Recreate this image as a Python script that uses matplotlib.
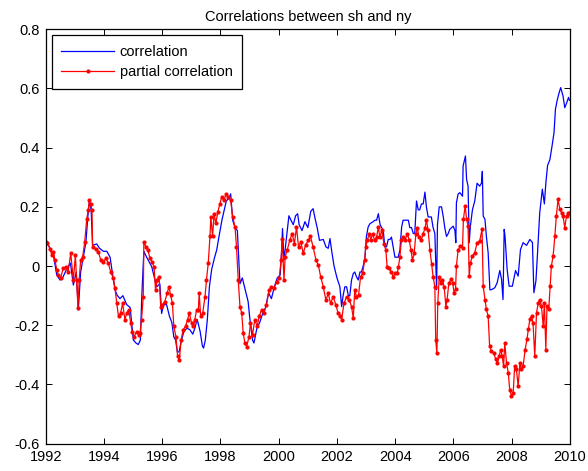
import matplotlib
matplotlib.use("Agg")
import matplotlib.pyplot as plt

plt.rcParams['font.family'] = ['Liberation Sans', 'DejaVu Sans']

# ---- correlation (blue) ----
corr_year = [1992.00, 1992.06, 1992.15, 1992.26, 1992.38, 1992.49, 1992.58, 1992.72, 1992.85, 1992.95,
             1993.05, 1993.12, 1993.20, 1993.29, 1993.38, 1993.45, 1993.50, 1993.56, 1993.61, 1993.75,
             1993.85, 1993.98, 1994.10, 1994.21, 1994.30, 1994.38, 1994.45, 1994.55, 1994.65, 1994.78,
             1994.90, 1995.01, 1995.10, 1995.18, 1995.25, 1995.30, 1995.37, 1995.46, 1995.64, 1995.75,
             1995.81, 1995.92, 1995.98, 1996.05, 1996.15, 1996.25, 1996.33, 1996.40, 1996.46, 1996.52,
             1996.58, 1996.66, 1996.75, 1996.85, 1996.95, 1997.05, 1997.12, 1997.20, 1997.30, 1997.38,
             1997.42, 1997.48, 1997.55, 1997.62, 1997.70, 1997.80, 1997.87, 1997.95, 1998.05, 1998.10,
             1998.20, 1998.30, 1998.35, 1998.42, 1998.50, 1998.58, 1998.67, 1998.75, 1998.90, 1998.95,
             1999.00, 1999.10, 1999.15, 1999.25, 1999.35, 1999.45, 1999.55, 1999.65, 1999.75, 1999.85,
             1999.95, 2000.05, 2000.10, 2000.13, 2000.18, 2000.28, 2000.35, 2000.42, 2000.50, 2000.58,
             2000.65, 2000.70, 2000.80, 2000.90, 2001.00, 2001.10, 2001.18, 2001.25, 2001.32, 2001.40,
             2001.53, 2001.62, 2001.70, 2001.76, 2001.82, 2001.90, 2002.00, 2002.10, 2002.16, 2002.21,
             2002.27, 2002.33, 2002.39, 2002.44, 2002.50, 2002.56, 2002.61, 2002.67, 2002.73, 2002.79,
             2002.84, 2002.90, 2002.96, 2003.01, 2003.07, 2003.13, 2003.24, 2003.30, 2003.36, 2003.42,
             2003.48, 2003.59, 2003.64, 2003.70, 2003.76, 2003.82, 2003.87, 2003.93, 2003.99, 2004.04,
             2004.10, 2004.16, 2004.22, 2004.27, 2004.33, 2004.39, 2004.45, 2004.50, 2004.56, 2004.62,
             2004.67, 2004.73, 2004.79, 2004.84, 2004.90, 2004.96, 2005.02, 2005.07, 2005.13, 2005.19,
             2005.24, 2005.30, 2005.36, 2005.42, 2005.45, 2005.51, 2005.59, 2005.65, 2005.70, 2005.76,
             2005.82, 2005.87, 2005.99, 2006.05, 2006.08, 2006.10, 2006.16, 2006.22, 2006.31, 2006.33,
             2006.41, 2006.45, 2006.50, 2006.54, 2006.58, 2006.65, 2006.73, 2006.81, 2006.90, 2006.96,
             2006.99, 2007.02, 2007.08, 2007.13, 2007.19, 2007.25, 2007.30, 2007.42, 2007.50, 2007.59,
             2007.65, 2007.70, 2007.74, 2007.77, 2007.84, 2007.91, 2008.02, 2008.13, 2008.22, 2008.30,
             2008.39, 2008.51, 2008.62, 2008.71, 2008.76, 2008.83, 2008.88, 2008.96, 2009.05, 2009.12,
             2009.17, 2009.23, 2009.31, 2009.39, 2009.45, 2009.50, 2009.56, 2009.61, 2009.68, 2009.76,
             2009.82, 2009.88, 2009.95, 2009.98]
corr_val = [0.070, 0.075, 0.060, 0.040, -0.030, -0.047, -0.040, -0.010, 0.010, -0.064,
            -0.020, -0.148, -0.020, 0.030, 0.080, 0.170, 0.220, 0.190, 0.070, 0.075,
            0.060, 0.050, 0.050, 0.030, -0.030, -0.080, -0.098, -0.110, -0.100, -0.130,
            -0.140, -0.250, -0.260, -0.265, -0.250, -0.100, 0.050, 0.031, -0.002, -0.047,
            -0.070, -0.060, -0.160, -0.130, -0.130, -0.170, -0.190, -0.240, -0.250, -0.290,
            -0.290, -0.250, -0.220, -0.210, -0.215, -0.230, -0.210, -0.180, -0.220, -0.270,
            -0.277, -0.250, -0.180, -0.070, -0.010, 0.030, 0.054, 0.100, 0.155, 0.177,
            0.220, 0.230, 0.244, 0.155, 0.130, 0.120, -0.060, -0.040, -0.100, -0.120,
            -0.170, -0.250, -0.260, -0.210, -0.190, -0.160, -0.140, -0.090, -0.110, -0.070,
            -0.040, -0.030, 0.050, 0.127, 0.020, 0.110, 0.170, 0.155, 0.140, 0.170,
            0.177, 0.140, 0.120, 0.150, 0.130, 0.185, 0.194, 0.160, 0.130, 0.087,
            0.090, 0.065, 0.060, 0.093, 0.050, 0.000, -0.040, -0.070, -0.137, -0.100,
            -0.070, -0.070, -0.100, -0.100, -0.047, -0.025, -0.020, -0.036, -0.047, -0.020,
            -0.020, 0.000, 0.030, 0.100, 0.132, 0.143, 0.150, 0.155, 0.155, 0.177,
            0.140, 0.120, 0.065, 0.065, 0.090, 0.090, 0.098, 0.065, 0.030, 0.030,
            0.030, 0.054, 0.132, 0.155, 0.155, 0.155, 0.155, 0.130, 0.130, 0.110,
            0.110, 0.220, 0.190, 0.190, 0.210, 0.210, 0.250, 0.200, 0.166, 0.166,
            0.166, 0.130, 0.110, -0.080, 0.140, 0.200, 0.200, 0.166, 0.130, 0.100,
            0.110, 0.124, 0.135, 0.120, 0.079, 0.214, 0.244, 0.248, 0.236, 0.338,
            0.372, 0.293, 0.270, 0.079, 0.135, 0.190, 0.220, 0.280, 0.270, 0.280,
            0.320, 0.169, 0.158, 0.100, 0.045, -0.080, -0.080, -0.073, -0.056, -0.015,
            -0.045, -0.113, 0.124, 0.100, -0.010, -0.068, -0.068, -0.015, -0.034, 0.056,
            0.079, 0.070, 0.090, 0.080, -0.090, -0.050, 0.035, 0.180, 0.260, 0.210,
            0.280, 0.340, 0.360, 0.410, 0.450, 0.530, 0.560, 0.580, 0.603, 0.575,
            0.535, 0.550, 0.570, 0.560]

# ---- partial correlation (red) ----
pcorr_year = [1992.00, 1992.06, 1992.15, 1992.21, 1992.26, 1992.32, 1992.38, 1992.43, 1992.51, 1992.60,
              1992.69, 1992.77, 1992.86, 1992.95, 1993.02, 1993.06, 1993.11, 1993.15, 1993.20, 1993.27,
              1993.34, 1993.41, 1993.46, 1993.50, 1993.54, 1993.59, 1993.61, 1993.73, 1993.81, 1993.89,
              1993.98, 1994.07, 1994.15, 1994.23, 1994.32, 1994.38, 1994.44, 1994.50, 1994.57, 1994.64,
              1994.72, 1994.78, 1994.85, 1994.92, 1994.97, 1995.04, 1995.12, 1995.19, 1995.24, 1995.29,
              1995.35, 1995.37, 1995.44, 1995.51, 1995.58, 1995.65, 1995.72, 1995.77, 1995.83, 1995.89,
              1995.95, 1996.01, 1996.09, 1996.17, 1996.23, 1996.29, 1996.35, 1996.40, 1996.47, 1996.53,
              1996.59, 1996.65, 1996.72, 1996.80, 1996.87, 1996.93, 1997.01, 1997.07, 1997.12, 1997.18,
              1997.24, 1997.27, 1997.32, 1997.39, 1997.47, 1997.52, 1997.58, 1997.64, 1997.67, 1997.73,
              1997.78, 1997.84, 1997.91, 1997.98, 1998.04, 1998.12, 1998.19, 1998.27, 1998.35, 1998.42,
              1998.50, 1998.55, 1998.61, 1998.67, 1998.73, 1998.78, 1998.84, 1998.90, 1998.98, 1999.03,
              1999.10, 1999.18, 1999.26, 1999.33, 1999.41, 1999.49, 1999.58, 1999.67, 1999.75, 1999.83,
              1999.93, 2000.02, 2000.08, 2000.12, 2000.18, 2000.22, 2000.29, 2000.38, 2000.46, 2000.54,
              2000.61, 2000.68, 2000.76, 2000.84, 2000.92, 2001.01, 2001.09, 2001.18, 2001.28, 2001.36,
              2001.44, 2001.53, 2001.62, 2001.70, 2001.78, 2001.87, 2001.96, 2002.04, 2002.12, 2002.16,
              2002.24, 2002.33, 2002.42, 2002.50, 2002.56, 2002.61, 2002.67, 2002.74, 2002.81, 2002.88,
              2002.95, 2002.99, 2003.04, 2003.11, 2003.16, 2003.22, 2003.29, 2003.36, 2003.42, 2003.47,
              2003.54, 2003.61, 2003.68, 2003.72, 2003.79, 2003.86, 2003.93, 2003.99, 2004.07, 2004.11,
              2004.16, 2004.21, 2004.27, 2004.34, 2004.41, 2004.48, 2004.54, 2004.59, 2004.65, 2004.71,
              2004.76, 2004.82, 2004.89, 2004.96, 2005.02, 2005.07, 2005.13, 2005.19, 2005.25, 2005.30,
              2005.36, 2005.39, 2005.43, 2005.46, 2005.51, 2005.57, 2005.62, 2005.68, 2005.74, 2005.78,
              2005.84, 2005.91, 2005.97, 2006.02, 2006.07, 2006.10, 2006.16, 2006.24, 2006.31, 2006.34,
              2006.40, 2006.45, 2006.50, 2006.54, 2006.58, 2006.65, 2006.73, 2006.81, 2006.90, 2006.98,
              2007.02, 2007.08, 2007.13, 2007.19, 2007.24, 2007.30, 2007.38, 2007.45, 2007.51, 2007.57,
              2007.62, 2007.67, 2007.72, 2007.76, 2007.82, 2007.88, 2007.93, 2007.99, 2008.05, 2008.10,
              2008.16, 2008.22, 2008.28, 2008.33, 2008.39, 2008.46, 2008.52, 2008.57, 2008.62, 2008.68,
              2008.73, 2008.79, 2008.85, 2008.91, 2008.96, 2009.02, 2009.08, 2009.12, 2009.17, 2009.21,
              2009.27, 2009.32, 2009.36, 2009.42, 2009.48, 2009.53, 2009.59, 2009.65, 2009.71, 2009.76,
              2009.82, 2009.88, 2009.94, 2009.98]
pcorr_val = [0.080, 0.078, 0.059, 0.037, 0.048, 0.020, -0.013, -0.030, -0.041, -0.008,
             -0.004, -0.019, 0.043, -0.047, 0.037, -0.047, -0.142, -0.047, 0.020, 0.031,
             0.082, 0.160, 0.188, 0.222, 0.210, 0.188, 0.065, 0.059, 0.048, 0.020,
             0.014, 0.026, 0.009, -0.019, -0.041, -0.075, -0.126, -0.170, -0.159, -0.126,
             -0.181, -0.159, -0.148, -0.193, -0.221, -0.238, -0.221, -0.232, -0.226, -0.181,
             -0.103, 0.082, 0.065, 0.054, 0.026, 0.014, -0.002, -0.081, -0.047, -0.036,
             -0.137, -0.131, -0.120, -0.092, -0.070, -0.098, -0.126, -0.204, -0.238, -0.305,
             -0.316, -0.249, -0.215, -0.204, -0.181, -0.159, -0.193, -0.204, -0.181, -0.148,
             -0.148, -0.092, -0.170, -0.159, -0.103, -0.047, 0.009, 0.100, 0.166, 0.100,
             0.177, 0.144, 0.183, 0.210, 0.233, 0.222, 0.244, 0.233, 0.222, 0.166,
             0.132, 0.065, -0.047, -0.137, -0.159, -0.226, -0.260, -0.272, -0.238, -0.193,
             -0.232, -0.181, -0.204, -0.170, -0.148, -0.159, -0.131, -0.081, -0.070, -0.075,
             -0.053, -0.041, 0.020, 0.093, -0.047, 0.031, 0.054, 0.087, 0.110, 0.076,
             0.132, 0.065, 0.082, 0.043, 0.070, 0.087, 0.100, 0.065, 0.020, 0.003,
             -0.036, -0.070, -0.115, -0.092, -0.126, -0.103, -0.131, -0.159, -0.170, -0.181,
             -0.126, -0.103, -0.114, -0.137, -0.176, -0.081, -0.103, -0.098, -0.036, -0.025,
             0.020, 0.065, 0.087, 0.110, 0.087, 0.110, 0.087, 0.098, 0.132, 0.098,
             0.121, 0.076, 0.054, -0.002, -0.008, -0.019, -0.036, -0.025, -0.025, -0.002,
             0.031, 0.087, 0.098, 0.087, 0.110, 0.087, 0.054, 0.020, 0.043, 0.110,
             0.127, 0.098, 0.087, 0.110, 0.127, 0.155, 0.121, 0.054, 0.007, -0.036,
             -0.070, -0.250, -0.294, -0.126, -0.036, -0.058, -0.047, -0.070, -0.137, -0.114,
             -0.058, -0.045, -0.056, -0.090, -0.079, 0.000, 0.056, 0.068, 0.062, 0.158,
             0.203, 0.158, 0.135, -0.034, 0.011, 0.034, 0.045, 0.079, 0.085, 0.124,
             -0.068, -0.113, -0.146, -0.169, -0.270, -0.287, -0.293, -0.315, -0.327, -0.304,
             -0.282, -0.304, -0.338, -0.259, -0.327, -0.360, -0.417, -0.439, -0.428, -0.338,
             -0.349, -0.406, -0.327, -0.349, -0.338, -0.282, -0.248, -0.214, -0.180, -0.169,
             -0.192, -0.304, -0.158, -0.124, -0.113, -0.135, -0.203, -0.124, -0.282, -0.135,
             -0.146, -0.068, 0.000, 0.034, 0.101, 0.169, 0.225, 0.192, 0.180, 0.169,
             0.130, 0.169, 0.180, 0.180]

x_ticks = [1992, 1994, 1996, 1998, 2000, 2002, 2004, 2006, 2008, 2010]
x_tick_labels = ['1992', '1994', '1996', '1998', '2000', '2002', '2004', '2006', '2008', '2010']
y_ticks = [-0.6, -0.4, -0.2, 0.0, 0.2, 0.4, 0.6, 0.8]
y_tick_labels = ['-0.6', '-0.4', '-0.2', '0', '0.2', '0.4', '0.6', '0.8']

fig = plt.figure(figsize=(5.88, 4.71), dpi=100)
ax = fig.add_axes([0.0777, 0.058, 0.8917, 0.8798])

ax.plot(corr_year, corr_val, color=(0, 0, 1), linewidth=0.9, label='correlation')
ax.plot(pcorr_year, pcorr_val, color=(1, 0, 0), linewidth=0.9, marker='.', markersize=4,
        label='partial correlation')

ax.set_xlim(1992, 2010)
ax.set_ylim(-0.6, 0.8)
ax.set_xticks(x_ticks)
ax.set_xticklabels(x_tick_labels)
ax.set_yticks(y_ticks)
ax.set_yticklabels(y_tick_labels)
ax.tick_params(direction='in', length=4, width=0.7, top=True, right=True,
               labelsize=10.5)
ax.tick_params(axis='y', pad=4.3)
ax.tick_params(axis='x', pad=4.3)
for s in ax.spines.values():
    s.set_linewidth(0.9)

ax.set_title('Correlations between sh and ny', fontsize=10.5, pad=6)

leg = ax.legend(loc='upper left', fontsize=10.5, fancybox=False, edgecolor='black',
                framealpha=1, handlelength=3.6, numpoints=1, borderaxespad=0.42,
                borderpad=0.65, labelspacing=0.42, handletextpad=0.4)
leg.get_frame().set_linewidth(0.9)

fig.savefig('out.png', dpi=100)
